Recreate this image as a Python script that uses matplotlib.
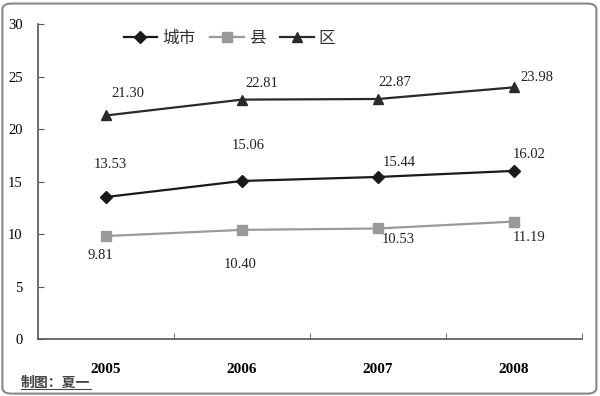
import matplotlib.pyplot as plt
from matplotlib.patches import FancyBboxPatch
import numpy as np

plt.rcParams['font.family'] = ['Liberation Serif', 'Noto Sans CJK SC']

years = ['2005', '2006', '2007', '2008']
city = [13.53, 15.06, 15.44, 16.02]
county = [9.81, 10.40, 10.53, 11.19]
district = [21.30, 22.81, 22.87, 23.98]

# label offsets in pixels (dx, dy) for each series
city_off = [(4, 33), (6, 35), (21, 14), (15, 16)]
county_off = [(-6, -19), (-2, -35), (20, -11), (15, -16)]
district_off = [(22, 22), (20, 16), (17, 16), (23, 10)]

fig = plt.figure(figsize=(6, 3.96), dpi=100)
ax = fig.add_axes([0.0633, 0.1439, 0.9067, 0.7951])

x = np.arange(len(years))
ax.plot(x, city, color='#1a1a1a', lw=1.6, marker='D', ms=6, label='城市')
ax.plot(x, county, color='#9a9a9a', lw=1.6, marker='s', ms=7, label='县')
ax.plot(x, district, color='#2a2a2a', lw=1.6, marker='^', ms=7, label='区')

for vals, offs in [(city, city_off), (county, county_off), (district, district_off)]:
    for xi, v, (dx, dy) in zip(x, vals, offs):
        ax.annotate(f'{v:.2f}', (xi, v), xytext=(dx, dy), textcoords='offset pixels',
                    ha='center', va='center', fontsize=10.5, color='#222222')

ax.set_xlim(-0.5, 3.5)
ax.set_ylim(0, 30)
ax.set_yticks(range(0, 31, 5))
ax.set_xticks(x)
ax.set_xticklabels(years, fontsize=11, fontweight='bold')
ax.set_xticks([0.5, 1.5, 2.5, 3.5], minor=True)
ax.tick_params(axis='x', which='major', length=0, pad=17)
ax.tick_params(axis='x', which='minor', direction='in', length=4, color='#555555')
ax.tick_params(axis='y', direction='in', length=4, color='#555555', labelsize=10.5, pad=11)
for s in ['top', 'right']:
    ax.spines[s].set_visible(False)
for s in ['left', 'bottom']:
    ax.spines[s].set_color('#555555')
    ax.spines[s].set_linewidth(1.2)

leg = ax.legend(loc='upper left', bbox_to_anchor=(0.13, 1.03), ncol=3, frameon=False,
                handlelength=2.0, columnspacing=0.9, handletextpad=0.3,
                prop={'family': ['Noto Sans CJK SC'], 'size': 12})
for t in leg.get_texts():
    t.set_color('#333333')

fig.text(0.035, 0.022, '制图：夏一', fontsize=10, color='#444444',
         family=['Noto Sans CJK SC'], fontweight='bold')
fig.add_artist(plt.Line2D([0.035, 0.152], [0.018, 0.018], color='#444444', lw=0.8))

frame = FancyBboxPatch((0.004, 0.006), 0.99, 0.985, boxstyle='round,pad=0,rounding_size=0.015',
                       transform=fig.transFigure, fill=False, ec='#888888', lw=1.5)
fig.add_artist(frame)

fig.savefig('out.png', dpi=100)
